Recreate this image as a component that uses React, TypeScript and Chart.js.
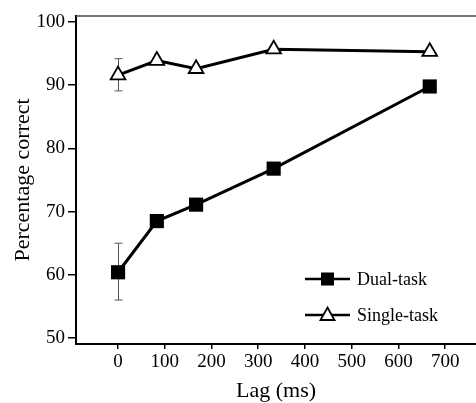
import React, { useEffect, useRef } from "react";
import { Chart, registerables } from "chart.js";

Chart.register(...registerables);

const lags = [0, 83, 167, 333, 667];
const dualTask = [60.4, 68.5, 71.1, 76.8, 89.8];
const singleTask = [91.6, 93.9, 92.6, 95.7, 95.3];
const dualErrLow = [56.0];
const dualErrHigh = [65.0];
const singleErrLow = [89.1];
const singleErrHigh = [94.2];
const xTicks = [0, 100, 200, 300, 400, 500, 600, 700];
const yTicks = [50, 60, 70, 80, 90, 100];
const legendLabels = ["Dual-task", "Single-task"];

const FONT = "'Liberation Serif', 'Times New Roman', serif";

const extrasPlugin = {
  id: "extras",
  beforeDatasetsDraw(chart: any) {
    const { ctx, chartArea, scales } = chart;
    const x = scales.x;
    const y = scales.y;
    ctx.save();
    // top border
    ctx.strokeStyle = "#444";
    ctx.lineWidth = 1.5;
    ctx.beginPath();
    ctx.moveTo(chartArea.left, chartArea.top);
    ctx.lineTo(chartArea.right, chartArea.top);
    ctx.stroke();
    // error bars
    ctx.strokeStyle = "#555";
    ctx.lineWidth = 1;
    const bars: [number[], number[]][] = [
      [dualErrLow, dualErrHigh],
      [singleErrLow, singleErrHigh],
    ];
    bars.forEach(([lo, hi]) => {
      lo.forEach((v, i) => {
        const px = Math.round(x.getPixelForValue(lags[i])) + 0.5;
        const y1 = y.getPixelForValue(v);
        const y2 = y.getPixelForValue(hi[i]);
        ctx.beginPath();
        ctx.moveTo(px, y1);
        ctx.lineTo(px, y2);
        ctx.moveTo(px - 4, y1);
        ctx.lineTo(px + 4, y1);
        ctx.moveTo(px - 4, y2);
        ctx.lineTo(px + 4, y2);
        ctx.stroke();
      });
    });
    ctx.restore();
  },
  afterDraw(chart: any) {
    const { ctx } = chart;
    ctx.save();
    const rows = [
      { label: legendLabels[0], cy: 279, style: "rect" },
      { label: legendLabels[1], cy: 315, style: "triangle" },
    ];
    rows.forEach((r) => {
      ctx.strokeStyle = "#000";
      ctx.lineWidth = 2.5;
      ctx.beginPath();
      ctx.moveTo(305, r.cy);
      ctx.lineTo(350, r.cy);
      ctx.stroke();
      if (r.style === "rect") {
        ctx.fillStyle = "#000";
        ctx.fillRect(321, r.cy - 6.5, 13, 13);
      } else {
        ctx.fillStyle = "#fff";
        ctx.lineWidth = 1.8;
        ctx.beginPath();
        ctx.moveTo(327.5, r.cy - 7.5);
        ctx.lineTo(334.5, r.cy + 5);
        ctx.lineTo(320.5, r.cy + 5);
        ctx.closePath();
        ctx.fill();
        ctx.stroke();
      }
      ctx.fillStyle = "#000";
      ctx.font = `18px ${FONT}`;
      ctx.textAlign = "left";
      ctx.textBaseline = "middle";
      ctx.fillText(r.label, 357, r.cy + 1);
    });
    ctx.restore();
  },
};

export default function App() {
  const ref = useRef<HTMLCanvasElement | null>(null);

  useEffect(() => {
    if (!ref.current) return;
    const chart = new Chart(ref.current, {
      type: "line",
      data: {
        datasets: [
          {
            label: legendLabels[0],
            data: lags.map((l, i) => ({ x: l, y: dualTask[i] })),
            borderColor: "#000",
            backgroundColor: "#000",
            borderWidth: 3,
            pointStyle: "rect",
            pointRadius: 10,
            pointBorderWidth: 0,
            pointBackgroundColor: "#000",
            tension: 0,
          },
          {
            label: legendLabels[1],
            data: lags.map((l, i) => ({ x: l, y: singleTask[i] })),
            borderColor: "#000",
            backgroundColor: "#fff",
            borderWidth: 3,
            pointStyle: "triangle",
            pointRadius: 8.5,
            pointBorderWidth: 1.8,
            pointBorderColor: "#000",
            pointBackgroundColor: "#fff",
            tension: 0,
          },
        ],
      },
      options: {
        animation: false,
        responsive: false,
        maintainAspectRatio: false,
        layout: { autoPadding: false, padding: { left: 0, top: 16, right: 0, bottom: 0 } },
        plugins: {
          legend: { display: false },
          tooltip: { enabled: false },
        },
        scales: {
          x: {
            type: "linear",
            min: -90,
            max: 766,
            afterFit: (s: any) => {
              s.height = 59;
              s.paddingLeft = 0;
              s.paddingRight = 0;
            },
            afterBuildTicks: (s: any) => {
              s.ticks = xTicks.map((v) => ({ value: v }));
            },
            ticks: {
              includeBounds: false,
              color: "#000",
              font: { family: FONT, size: 19 },
              padding: 2,
              maxRotation: 0,
              autoSkip: false,
            },
            grid: {
              drawOnChartArea: false,
              drawTicks: true,
              tickLength: 5,
              color: "#000",
              lineWidth: 1.5,
            },
            border: { display: true, color: "#000", width: 2 },
            title: {
              display: true,
              text: "Lag (ms)",
              color: "#000",
              font: { family: FONT, size: 22 },
              padding: { top: 0, bottom: -1 },
            },
          },
          y: {
            type: "linear",
            min: 49.05,
            max: 100.95,
            afterFit: (s: any) => {
              s.width = 76;
              s.paddingTop = 0;
              s.paddingBottom = 0;
            },
            afterBuildTicks: (s: any) => {
              s.ticks = yTicks.map((v) => ({ value: v }));
            },
            ticks: {
              includeBounds: false,
              color: "#000",
              font: { family: FONT, size: 19 },
              padding: 3,
              autoSkip: false,
            },
            grid: {
              drawOnChartArea: false,
              drawTicks: true,
              tickLength: 8,
              color: "#000",
              lineWidth: 1.5,
            },
            border: { display: true, color: "#000", width: 2 },
            title: {
              display: true,
              text: "Percentage correct",
              color: "#000",
              font: { family: FONT, size: 22 },
              padding: { top: 10, bottom: 0 },
            },
          },
        },
      },
      plugins: [extrasPlugin],
    });
    return () => chart.destroy();
  }, []);

  return (
    <div style={{ position: "absolute", left: 0, top: 0, width: 476, height: 403, background: "#fff" }}>
      <canvas ref={ref} width={476} height={403} style={{ width: 476, height: 403, display: "block" }} />
    </div>
  );
}
